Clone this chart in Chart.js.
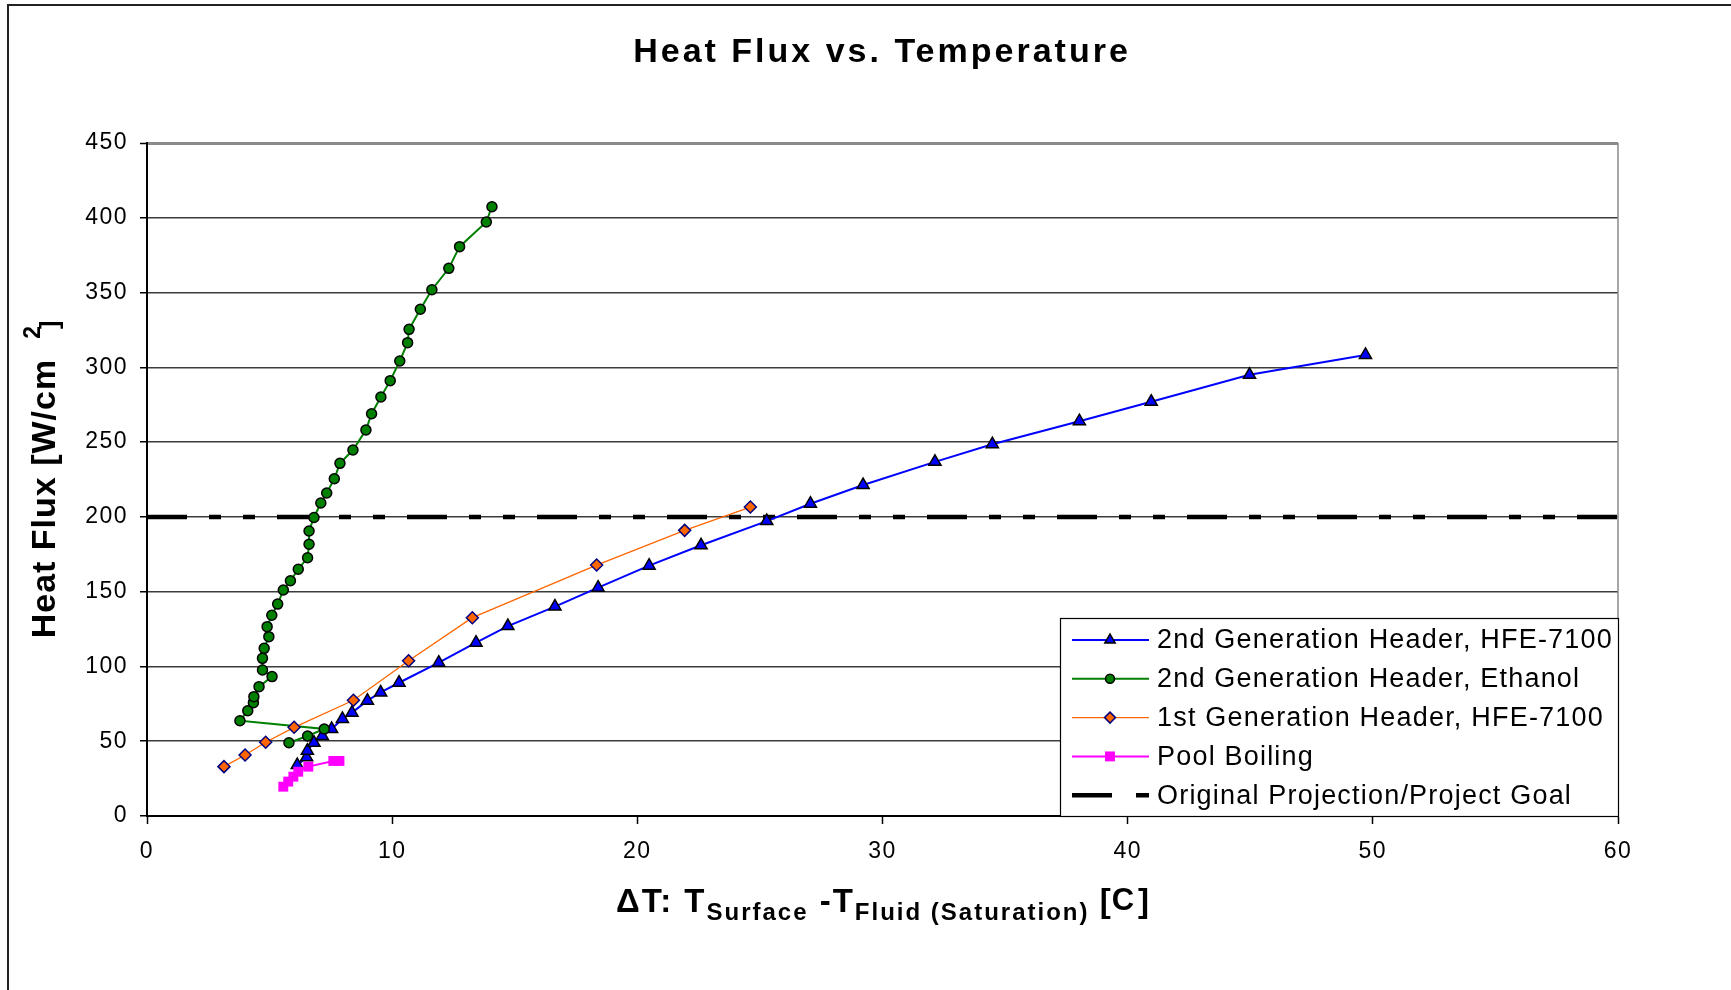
<!DOCTYPE html>
<html>
<head>
<meta charset="utf-8">
<title>Heat Flux vs. Temperature</title>
<script src="https://cdn.jsdelivr.net/npm/chart.js@4.4.1/dist/chart.umd.min.js"></script>
<style>
  html, body { margin: 0; padding: 0; background: #fff; }
  #wrap { width: 1731px; height: 990px; }
</style>
</head>
<body>
<div id="wrap"><canvas id="chart" width="1731" height="990"></canvas></div>
<script>
/* Heat flux vs. wall superheat — four test series plus the project goal line */

const FONT = "'Liberation Sans', Arial, Helvetica, sans-serif";

// 2nd generation header, HFE-7100 (triangles)
const hfe2X = [6.13, 6.51, 6.54, 6.81, 7.15, 7.53, 7.97, 8.36, 8.99, 9.53, 10.28, 11.90, 13.42, 14.72,
  16.64, 18.40, 20.48, 22.60, 25.28, 27.06, 29.21, 32.14, 34.48, 38.03, 40.96, 44.97, 49.70];
const hfe2Y = [34.1, 39.2, 43.7, 49.0, 53.5, 58.2, 64.9, 69.1, 77.1, 82.6, 89.1, 102.5, 115.9, 127.0,
  140.0, 152.7, 167.4, 181.0, 197.2, 208.8, 221.3, 236.8, 248.6, 264.0, 277.0, 295.0, 308.3];

// 2nd generation header, ethanol (circles)
const ethX = [5.79, 6.55, 7.23, 3.79, 4.11, 4.34, 4.36, 4.57, 5.10, 4.71, 4.71, 4.78, 4.97, 4.90,
  5.09, 5.33, 5.56, 5.85, 6.17, 6.55, 6.61, 6.61, 6.81, 7.09, 7.33, 7.64, 7.87, 8.40, 8.93, 9.16,
  9.54, 9.92, 10.31, 10.63, 10.69, 11.15, 11.62, 12.31, 12.75, 13.84, 14.07];
const ethY = [49.0, 53.5, 58.2, 63.7, 70.4, 75.8, 79.8, 86.5, 93.2, 97.6, 105.4, 112.1, 119.9, 126.6,
  134.2, 141.7, 151.1, 157.3, 165.0, 172.7, 181.7, 190.6, 199.6, 209.3, 216.0, 225.5, 235.8, 244.7,
  258.1, 269.0, 280.2, 291.1, 304.2, 316.5, 325.4, 338.8, 351.9, 366.2, 380.7, 397.2, 407.4];

// 1st generation header, HFE-7100 (diamonds)
const hfe1X = [3.14, 4.00, 4.84, 6.00, 8.42, 10.67, 13.27, 18.34, 21.93, 24.61];
const hfe1Y = [33.0, 40.8, 49.3, 59.3, 77.4, 103.8, 132.6, 167.8, 191.0, 206.6];

// pool boiling (squares)
const poolX = [5.56, 5.76, 5.97, 6.17, 6.58, 7.60, 7.85];
const poolY = [19.6, 23.0, 26.3, 29.6, 33.0, 36.8, 36.8];

// original projection / project goal
const goalX = [0, 60];
const goalY = [200, 200];

const xTicks = [0, 10, 20, 30, 40, 50, 60];
const yTicks = [0, 50, 100, 150, 200, 250, 300, 350, 400, 450];

const seriesNames = [
  "2nd Generation Header, HFE-7100",
  "2nd Generation Header, Ethanol",
  "1st Generation Header, HFE-7100",
  "Pool Boiling",
  "Original Projection/Project Goal",
];

const pts = (xs, ys) => xs.map((x, i) => ({ x, y: ys[i] }));

Chart.defaults.font.family = FONT;
Chart.defaults.color = "#000";

const datasets = [
  {
    label: seriesNames[0], data: pts(hfe2X, hfe2Y), order: 3,
    borderColor: "#0000FF", borderWidth: 2,
    pointStyle: "triangle", pointRadius: 7, pointBackgroundColor: "#0000FF",
    pointBorderColor: "#000", pointBorderWidth: 1.5,
  },
  {
    label: seriesNames[1], data: pts(ethX, ethY), order: 2,
    borderColor: "#008000", borderWidth: 2,
    pointStyle: "circle", pointRadius: 5, pointBackgroundColor: "#008000",
    pointBorderColor: "#000", pointBorderWidth: 1.5,
  },
  {
    label: seriesNames[2], data: pts(hfe1X, hfe1Y), order: 1,
    borderColor: "#FF6600", borderWidth: 1.3,
    pointStyle: "rectRot", pointRadius: 6, pointBackgroundColor: "#FF6600",
    pointBorderColor: "#000080", pointBorderWidth: 1.5,
  },
  {
    label: seriesNames[3], data: pts(poolX, poolY), order: 0,
    borderColor: "#FF00FF", borderWidth: 2,
    pointStyle: "rect", pointRadius: 7, pointBackgroundColor: "#FF00FF",
    pointBorderColor: "#FF00FF", pointBorderWidth: 0,
  },
  {
    label: seriesNames[4], data: pts(goalX, goalY), order: 4,
    borderColor: "#000", borderWidth: 4.5, borderCapStyle: "butt",
    borderDash: [40, 22, 12, 22, 12, 22], pointRadius: 0,
  },
];

/* draw a run of text pieces (sub/superscripts) left to right from x */
function richWidth(ctx, parts) {
  let w = 0;
  parts.forEach((p) => {
    ctx.font = `bold ${p.size}px ${FONT}`;
    ctx.letterSpacing = (p.ls || 0) + "px";
    w += (p.gap || 0) + ctx.measureText(p.t).width;
  });
  return w;
}
function drawRich(ctx, parts, x, y) {
  ctx.textAlign = "left";
  ctx.textBaseline = "alphabetic";
  parts.forEach((p) => {
    ctx.font = `bold ${p.size}px ${FONT}`;
    ctx.letterSpacing = (p.ls || 0) + "px";
    x += p.gap || 0;
    ctx.fillText(p.t, x, y + (p.dy || 0));
    x += ctx.measureText(p.t).width;
  });
}

const xTitle = [
  { t: "\u0394T: T", size: 33, ls: 2 },
  { t: "Surface", size: 24, dy: 8, ls: 2 },
  { t: " -T", size: 33, ls: 2 },
  { t: "Fluid (Saturation)", size: 24, dy: 8, ls: 2 },
  { t: " [", size: 33, ls: 1 },
  { t: "C", size: 31, dy: -2, ls: 1 },
  { t: "]", size: 33, gap: 3 },
];
const yTitle = [
  { t: "Heat Flux [W/cm", size: 34, ls: 1 },
  { t: "2", size: 23, dy: -15, gap: 20 },
  { t: "]", size: 25, dy: 3, gap: -3 },
];

const decor = {
  id: "decor",
  beforeDraw(chart) {
    chart.ctx.letterSpacing = "1.5px";
  },
  afterDraw(chart) {
    const ctx = chart.ctx;
    const a = chart.chartArea;
    ctx.save();

    // outer frame (only left and top edges are in view)
    ctx.strokeStyle = "#222";
    ctx.lineWidth = 2;
    ctx.beginPath();
    ctx.moveTo(8, 990);
    ctx.lineTo(8, 5);
    ctx.lineTo(1731, 5);
    ctx.stroke();

    // plot area right edge
    ctx.strokeStyle = "#8a8a8a";
    ctx.lineWidth = 1.5;
    ctx.beginPath();
    ctx.moveTo(a.right, a.top);
    ctx.lineTo(a.right, a.bottom);
    ctx.stroke();

    ctx.fillStyle = "#000";

    // title
    ctx.font = `bold 34px ${FONT}`;
    ctx.letterSpacing = "3px";
    ctx.textAlign = "center";
    ctx.textBaseline = "alphabetic";
    ctx.fillText("Heat Flux vs. Temperature", 882, 62);

    // x axis title
    const cx = (a.left + a.right) / 2;
    drawRich(ctx, xTitle, cx - richWidth(ctx, xTitle) / 2, 912);

    // y axis title
    ctx.save();
    ctx.translate(55, (a.top + a.bottom) / 2);
    ctx.rotate(-Math.PI / 2);
    drawRich(ctx, yTitle, -richWidth(ctx, yTitle) / 2, 0);
    ctx.restore();

    // legend box in the lower right corner of the plot
    const L = a.right - 558, T = a.bottom - 198;
    ctx.fillStyle = "#fff";
    ctx.fillRect(L, T, a.right - L, a.bottom - T);
    ctx.strokeStyle = "#000";
    ctx.lineWidth = 1.2;
    ctx.strokeRect(L + 0.5, T + 0.5, a.right - L, a.bottom - T);

    const legendMarks = [
      { style: "triangle", r: 6 },
      { style: "circle", r: 4.5 },
      { style: "rectRot", r: 5.5 },
      { style: "rect", r: 7 },
      { style: null },
    ];
    ctx.textBaseline = "middle";
    ctx.textAlign = "left";
    datasets.forEach((ds, i) => {
      const y = T + 22 + i * 38.8;
      const x0 = L + 12, x1 = L + 89, xm = L + 50;
      ctx.strokeStyle = ds.borderColor;
      if (ds.borderDash) {
        ctx.lineWidth = 4.5;
        ctx.setLineDash([40, 24, 13]);
      } else {
        ctx.lineWidth = ds.borderWidth;
        ctx.setLineDash([]);
      }
      ctx.beginPath();
      ctx.moveTo(x0, y);
      ctx.lineTo(x1, y);
      ctx.stroke();
      ctx.setLineDash([]);
      const m = legendMarks[i];
      if (m.style) {
        ctx.fillStyle = ds.pointBackgroundColor;
        ctx.strokeStyle = ds.pointBorderColor;
        ctx.lineWidth = ds.pointBorderWidth;
        Chart.helpers.drawPoint(ctx, {
          pointStyle: m.style, radius: m.r, rotation: 0, borderWidth: ds.pointBorderWidth,
        }, xm, y);
      }
      ctx.fillStyle = "#000";
      ctx.font = `27px ${FONT}`;
      ctx.letterSpacing = "1.2px";
      ctx.fillText(ds.label, L + 97, y + 1);
    });

    ctx.restore();
  },
};

new Chart(document.getElementById("chart"), {
  type: "line",
  data: { datasets },
  options: {
    responsive: false,
    animation: false,
    devicePixelRatio: 1,
    layout: { padding: { left: 0, right: 113, top: 143, bottom: 0 } },
    elements: { line: { tension: 0 } },
    plugins: { legend: { display: false }, tooltip: { enabled: false }, title: { display: false } },
    scales: {
      x: {
        type: "linear", min: 0, max: 60,
        afterBuildTicks: (s) => { s.ticks = xTicks.map((v) => ({ value: v })); },
        afterFit: (s) => { s.height = 174; },
        ticks: { font: { size: 23 }, color: "#000", padding: 14, maxRotation: 0 },
        grid: { drawOnChartArea: false, drawTicks: true, tickLength: 8, tickColor: "#000", tickWidth: 1.5 },
        border: { display: true, color: "#000", width: 2 },
      },
      y: {
        type: "linear", min: 0, max: 450,
        afterBuildTicks: (s) => { s.ticks = yTicks.map((v) => ({ value: v })); },
        afterFit: (s) => { s.width = 147; },
        ticks: { font: { size: 23 }, color: "#000", padding: 12 },
        grid: {
          color: (c) => (c.tick && c.tick.value === 450 ? "#8a8a8a" : "#3c3c3c"),
          lineWidth: (c) => (c.tick && c.tick.value === 450 ? 3 : 1.5),
          tickLength: 7, tickColor: "#000", tickWidth: 1.5,
        },
        border: { display: true, color: "#000", width: 2 },
      },
    },
  },
  plugins: [decor],
});
</script>
</body>
</html>
